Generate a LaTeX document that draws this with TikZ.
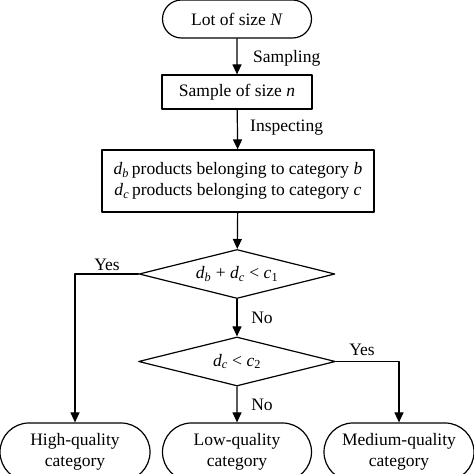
\documentclass[tikz,border=0pt]{standalone}
\usepackage{fontspec}
\setmainfont{Liberation Serif}
\usetikzlibrary{arrows.meta,shapes.misc,shapes.geometric}
\newcommand{\vsub}[2]{\textit{#1}\textsubscript{\textit{#2}}}
\newcommand{\opgap}{\kern4.5pt}
\tikzset{
  basic/.style={draw,line width=1.2pt,align=center,inner sep=0pt,font=\fontsize{17.5}{21.5}\selectfont},
  term/.style={basic,rounded rectangle},
  procbox/.style={basic,rectangle},
  decide/.style={basic,diamond,aspect=4},
  lbl/.style={font=\fontsize{17.5}{21.5}\selectfont,inner sep=0pt},
  flow/.style={->,line width=1.2pt}
}
\begin{document}
\begin{tikzpicture}[line cap=round,line join=round,>={Triangle[length=10pt,width=9pt]},x=1pt,y=1pt]
	\clip (0,0) rectangle (474,474);
	\node[term,minimum width=149pt,minimum height=38pt] (lot) at (237,455) {Lot of size \textit{N}};
	\node[procbox,minimum width=150pt,minimum height=34pt] (sample) at (237,382) {Sample of size \textit{n}};
	\node[procbox,minimum width=272pt,minimum height=62pt] (found) at (238,293) {\vsub{d}{b}\,products belonging to category \textit{b}\\ \vsub{d}{c}\,products belonging to category \textit{c}};
	\node[decide,minimum width=196pt,minimum height=49pt] (testa) at (237,200) {\vsub{d}{b}\opgap+\opgap\vsub{d}{c}\opgap<\opgap\textit{c}\textsubscript{1}};
	\node[decide,minimum width=197pt,minimum height=49pt] (testb) at (237,112.5) {\vsub{d}{c}\opgap<\opgap\textit{c}\textsubscript{2}};
	\node[term,minimum width=150pt,minimum height=58pt] (high) at (75,22) {High-quality\\category};
	\node[term,minimum width=149pt,minimum height=58pt] (low) at (237,22) {Low-quality\\category};
	\node[term,minimum width=150pt,minimum height=58pt] (medium) at (399,22) {Medium-quality\\category};
	\draw[flow] (lot) -- (sample);
	\draw[flow] (sample) -- (found);
	\draw[flow] (found) -- (testa);
	\draw[flow] (testa) -- (testb);
	\draw[flow] (testb) -- (low);
	\draw[flow] (testa.west) -| (high.north);
	\draw[flow] (testb.east) -| (medium.north);
	\node[lbl,anchor=west] (lsamp) at (253,416) {Sampling};
	\node[lbl,anchor=west] (linsp) at (250,346) {Inspecting};
	\node[lbl] (lyesa) at (107,209) {Yes};
	\node[lbl] (lnoa) at (262,156) {No};
	\node[lbl] (lyesb) at (362,124) {Yes};
	\node[lbl] (lnob) at (262,69) {No};
\end{tikzpicture}
\end{document}
